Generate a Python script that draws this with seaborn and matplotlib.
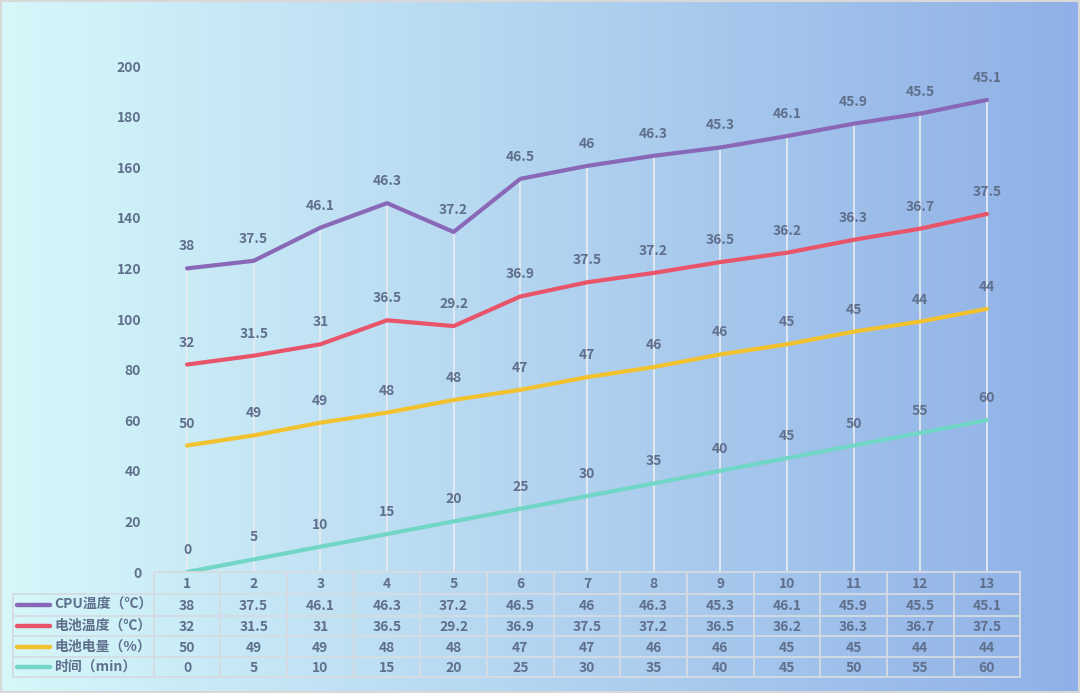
import numpy as np
import pandas as pd
import matplotlib
matplotlib.use("Agg")
import matplotlib.pyplot as plt
import seaborn as sns

categories = [1, 2, 3, 4, 5, 6, 7, 8, 9, 10, 11, 12, 13]
cpu_temp = [38, 37.5, 46.1, 46.3, 37.2, 46.5, 46, 46.3, 45.3, 46.1, 45.9, 45.5, 45.1]
bat_temp = [32, 31.5, 31, 36.5, 29.2, 36.9, 37.5, 37.2, 36.5, 36.2, 36.3, 36.7, 37.5]
bat_level = [50, 49, 49, 48, 48, 47, 47, 46, 46, 45, 45, 44, 44]
time_min = [0, 5, 10, 15, 20, 25, 30, 35, 40, 45, 50, 55, 60]
series_names = ["CPU温度（℃）", "电池温度（℃）", "电池电量（%）", "时间（min）"]
yticks = [0, 20, 40, 60, 80, 100, 120, 140, 160, 180, 200]

colors = ["#8a68b8", "#e8556a", "#f2c12e", "#72d6c6"]
txt_color = "#5f6f8c"

sns.set_theme(style="white")
plt.rcParams['font.family'] = ['Noto Sans CJK SC', 'DejaVu Sans']

W, H = 1080, 693
fig = plt.figure(figsize=(W / 100, H / 100), dpi=100)

# background gradient
bg = fig.add_axes([0, 0, 1, 1])
c0 = np.array([214, 248, 250]) / 255
c1 = np.array([143, 176, 230]) / 255
t = np.linspace(0, 1, 512)
grad = (c0[None, :] * (1 - t[:, None]) + c1[None, :] * t[:, None])[None, :, :]
bg.imshow(grad, aspect="auto", extent=[0, 1, 0, 1])
bg.set_xlim(0, 1); bg.set_ylim(0, 1)
bg.axis("off")
bg.add_patch(plt.Rectangle((0.0005, 0.0008), 0.999, 0.9984, fill=False,
                           edgecolor="#d8d8d8", lw=1.5))

# main axes
x0, x1 = 153.7, 1020.3
y0, y200 = 572, 66
ax = fig.add_axes([x0 / W, (H - y0) / H, (x1 - x0) / W, (y0 - y200) / H])
ax.patch.set_alpha(0)

stack = np.array([time_min, bat_level, bat_temp, cpu_temp], dtype=float)
cum = np.cumsum(stack, axis=0)
raw_order = [cpu_temp, bat_temp, bat_level, time_min]
cum_order = [cum[3], cum[2], cum[1], cum[0]]
xs = np.arange(len(categories))

# drop lines
ax.vlines(xs, 0, cum[3], color="#e6eaf0", lw=1.3, zorder=1)

for name, c, vals, raw in zip(series_names, colors, cum_order, raw_order):
    df = pd.DataFrame({"x": xs, "y": vals})
    sns.lineplot(data=df, x="x", y="y", ax=ax, color=c, lw=3, zorder=3)
    for xi, yi, r in zip(xs, vals, raw):
        ax.annotate(f"{r:g}", (xi, yi), xytext=(0, 22), textcoords="offset pixels",
                    ha="center", va="center", fontsize=10, color=txt_color,
                    fontweight="bold", zorder=4)

ax.set_xlim(-0.5, len(categories) - 0.5)
ax.set_ylim(0, 200)
ax.set_yticks(yticks)
ax.set_yticklabels([str(v) for v in yticks], fontsize=10, color=txt_color,
                   fontweight="bold")
ax.tick_params(axis="y", length=0, pad=9)
ax.set_xticks([])
ax.set_xlabel(""); ax.set_ylabel("")
for s in ax.spines.values():
    s.set_visible(False)

# data table
tb = fig.add_axes([0, 0, 1, 1])
tb.set_xlim(0, W); tb.set_ylim(H, 0)
tb.axis("off")
tb.patch.set_alpha(0)
grid_c = "#d6dbe2"
row_y = [572.3, 594.3, 615.7, 636.3, 657.0, 677.0]
cw = (x1 - x0) / len(categories)
col_x = [x0 + i * cw for i in range(len(categories) + 1)]
left = 12.5
tb.plot([x0, x1], [row_y[0], row_y[0]], color=grid_c, lw=1.3)
for yy in row_y[1:]:
    tb.plot([left, x1], [yy, yy], color=grid_c, lw=1.3)
tb.plot([left, left], [row_y[1], row_y[-1]], color=grid_c, lw=1.3)
for xx in col_x:
    tb.plot([xx, xx], [row_y[0], row_y[-1]], color=grid_c, lw=1.3)
for i, cat in enumerate(categories):
    tb.text(col_x[i] + cw / 2, (row_y[0] + row_y[1]) / 2 + 1, str(cat), ha="center",
            va="center", fontsize=10, color=txt_color, fontweight="bold")
for r, (name, c, raw) in enumerate(zip(series_names, colors, raw_order)):
    yc = (row_y[r + 1] + row_y[r + 2]) / 2
    tb.plot([17, 50], [yc, yc], color=c, lw=3.2, solid_capstyle="round")
    tb.text(54, yc, name, ha="left", va="center", fontsize=10, color=txt_color,
            fontweight="bold")
    for i, v in enumerate(raw):
        tb.text(col_x[i] + cw / 2, yc + 1, f"{v:g}", ha="center", va="center",
                fontsize=10, color=txt_color, fontweight="bold")

fig.savefig("out.png", dpi=100)
